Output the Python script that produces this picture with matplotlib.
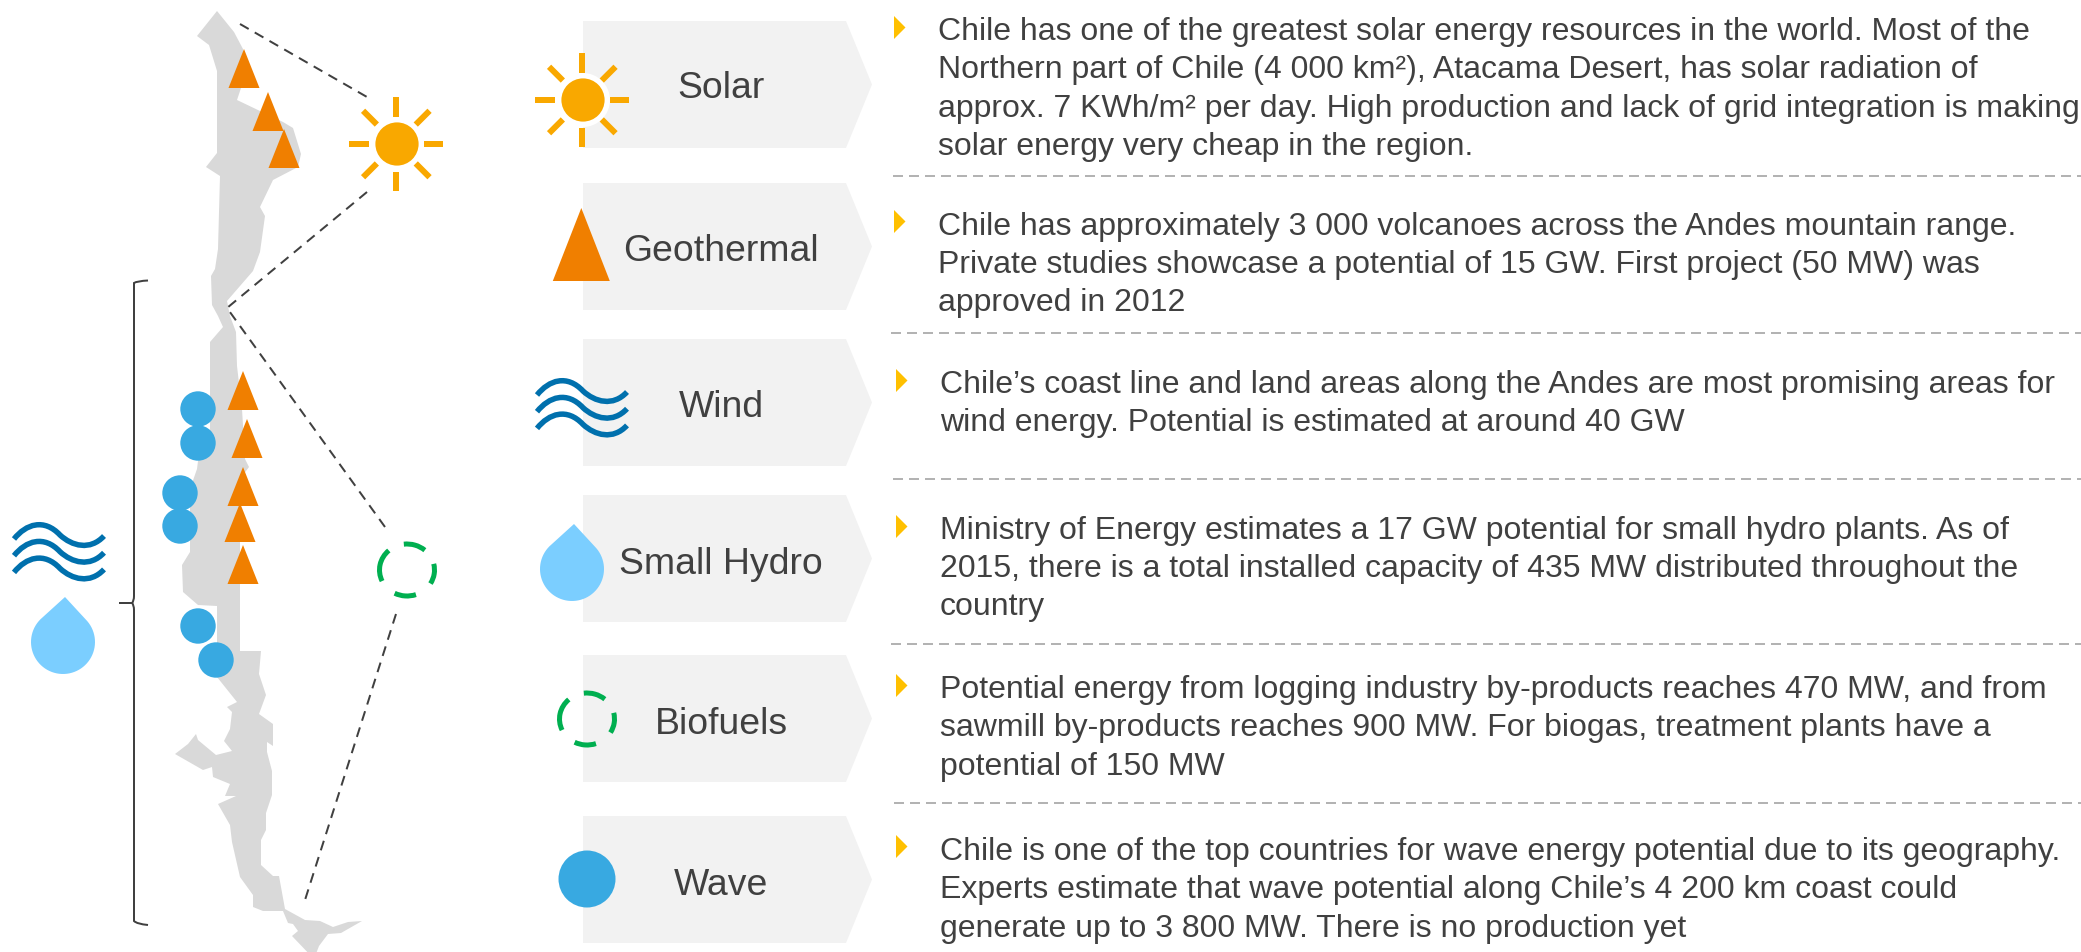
import matplotlib
matplotlib.use("Agg")
import matplotlib.pyplot as plt
import numpy as np
from matplotlib.patches import Polygon, Circle, Arc, PathPatch
from matplotlib.path import Path

plt.rcParams['font.family'] = ['Liberation Sans', 'DejaVu Sans']

W, H = 2081, 953
PX = 0.72  # one pixel in points at dpi 100

GREY_MAP = '#D9D9D9'
GREY_BOX = '#F2F2F2'
TEXT = '#404040'
ORANGE = '#F07F00'
SUN = '#F9A800'
BLUE = '#38A9E1'
DARK_BLUE = '#0070AD'
DROP = '#7BCEFF'
GREEN = '#00AF50'
YELLOW = '#FFC000'
SEP = '#B3B3B3'

# outline of the map in pixels
map_x = [217, 234, 243, 248, 241, 237, 260, 283, 293, 301, 298, 273, 260, 265, 260, 253, 227, 230, 236,
         237, 242, 245, 249, 240, 240, 240, 261, 259, 266, 259, 273, 273, 267, 267, 272, 272, 266, 266,
         261, 261, 273, 279, 285, 305, 320, 333, 348, 362, 341, 328, 319, 314, 292, 298, 293, 288, 283,
         263, 253, 253, 240, 232, 230, 218, 236, 225, 230, 213, 212, 203, 175, 188, 196, 198, 216, 232,
         224, 230, 232, 227, 237, 217, 217, 198, 183, 182, 190, 190, 197, 198, 210, 210, 223, 218, 212,
         211, 215, 218, 220, 206, 217, 217, 209, 197]
map_y = [12, 33, 50, 80, 89, 101, 112, 123, 129, 155, 168, 181, 208, 217, 253, 272, 302, 317, 333,
         367, 410, 460, 468, 480, 520, 652, 652, 675, 696, 715, 725, 747, 743, 753, 772, 796, 814, 831,
         841, 866, 877, 877, 910, 921, 922, 928, 923, 922, 934, 935, 947, 960, 937, 932, 925, 924, 912,
         912, 908, 896, 878, 843, 826, 805, 797, 797, 785, 778, 768, 771, 755, 745, 735, 741, 756, 752,
         742, 730, 713, 708, 703, 678, 607, 606, 593, 566, 553, 490, 470, 462, 437, 343, 328, 317, 306,
         277, 270, 250, 177, 168, 154, 72, 46, 37]

tri_x = [244, 268, 284, 243, 247, 243, 240, 243]
tri_base = [89, 132, 169, 411, 459, 507, 543, 585]
circle_x = [198, 198, 180, 180, 198, 216]
circle_y = [410, 444, 494, 527, 627, 661]

guide_x = [[240, 367], [367, 227, 385], [396, 305]]
guide_y = [[25, 98], [193, 309, 528], [615, 901]]

box_tops = [22, 184, 340, 496, 656, 817]
box_bottoms = [149, 311, 467, 623, 783, 944]
labels = ['Solar', 'Geothermal', 'Wind', 'Small Hydro', 'Biofuels', 'Wave']
label_base = [98, 260.7, 417, 573.7, 733.7, 894.7]

text_lines = [
    ['Chile has one of the greatest solar energy resources in the world. Most of the',
     'Northern part of Chile (4 000 km²), Atacama Desert, has solar radiation of',
     'approx. 7 KWh/m² per day. High production and lack of grid integration is making',
     'solar energy very cheap in the region.'],
    ['Chile has approximately 3 000 volcanoes across the Andes mountain range.',
     'Private studies showcase a potential of 15 GW. First project (50 MW) was',
     'approved in 2012'],
    ['Chile’s coast line and land areas along the Andes are most promising areas for',
     'wind energy. Potential is estimated at around 40 GW'],
    ['Ministry of Energy estimates a 17 GW potential for small hydro plants. As of',
     '2015, there is a total installed capacity of 435 MW distributed throughout the',
     'country'],
    ['Potential energy from logging industry by-products reaches 470 MW, and from',
     'sawmill by-products reaches 900 MW. For biogas, treatment plants have a',
     'potential of 150 MW'],
    ['Chile is one of the top countries for wave energy potential due to its geography.',
     'Experts estimate that wave potential along Chile’s 4 200 km coast could',
     'generate up to 3 800 MW. There is no production yet'],
]
text_x = [937.5, 937.5, 940, 940, 940, 940]
text_base = [40, 234.5, 393, 538.7, 698, 860]
bullet_x = [894, 894, 896, 896, 896, 896]
bullet_mid = [28.5, 222.5, 381.5, 527.5, 686.5, 847.5]
sep_x = [893, 891, 893, 891, 894]
sep_y = [177, 334, 480, 645, 804]

fig = plt.figure(figsize=(W / 100, H / 100), dpi=100)
ax = fig.add_axes([0, 0, 1, 1])
ax.set_xlim(0, W)
ax.set_ylim(H, 0)
ax.axis('off')


def triangle(x, base, w=31, h=39):
    ax.add_patch(Polygon([(x - w / 2, base), (x, base - h), (x + w / 2, base)], fc=ORANGE, ec='none', zorder=4))


def sun(cx, cy):
    ax.add_patch(Circle((cx, cy), 27, fc='white', ec='none', zorder=3))
    ax.add_patch(Circle((cx, cy), 21.6, fc=SUN, ec='none', zorder=4))
    for a in range(0, 360, 45):
        t = np.radians(a)
        ax.plot([cx - 0.7 + 27.5 * np.cos(t), cx - 0.7 + 47 * np.cos(t)], [cy + 27.5 * np.sin(t), cy + 47 * np.sin(t)],
                color=SUN, lw=6 * PX, solid_capstyle='butt', zorder=4)


def waves(x0, y0):
    for k in range(3):
        y = y0 + k * 16.7
        verts = [(x0, y), (x0 + 12, y - 15), (x0 + 30, y - 21), (x0 + 46, y - 4), (x0 + 58, y + 7),
                 (x0 + 76, y + 12), (x0 + 90, y - 3)]
        codes = [Path.MOVETO, Path.CURVE4, Path.CURVE4, Path.CURVE4, Path.CURVE4, Path.CURVE4, Path.CURVE4]
        ax.add_patch(PathPatch(Path(verts, codes), fc='none', ec=DARK_BLUE, lw=5.5 * PX, capstyle='butt', zorder=4))


def drop(cx, cy, r=32):
    t = np.radians(np.linspace(-45, 225, 60))
    pts = list(zip(cx + r * np.cos(t), cy + r * np.sin(t)))
    pts.append((cx + 2, cy - 45))
    ax.add_patch(Polygon(pts, fc=DROP, ec='none', zorder=4))


def dashed_ring(cx, cy):
    for a0, a1 in [(97, 48), (13, -30), (-70, -118), (-156, -227)]:
        ax.add_patch(Arc((cx, cy), 55, 52, theta1=-a0, theta2=-a1, color=GREEN, lw=5 * PX, zorder=4))


# map and what sits on it
ax.add_patch(Polygon(list(zip(map_x, map_y)), fc=GREY_MAP, ec='none', zorder=1))
for x, b in zip(tri_x, tri_base):
    triangle(x, b)
for x, y in zip(circle_x, circle_y):
    ax.add_patch(Circle((x, y), 17.7, fc=BLUE, ec='none', zorder=4))
for xs, ys in zip(guide_x, guide_y):
    ax.plot(xs, ys, color=TEXT, lw=2 * PX, dashes=(5, 3.5), zorder=3)

sun(397, 145)
dashed_ring(407, 571)
waves(14, 540)
drop(63, 643)

# bracket
br = [(148, 281.5), (137, 282), (134, 284), (134, 597), (134, 602), (132, 604), (119, 604),
      (132, 604), (134, 606), (134, 611), (134, 922), (137, 925), (148, 926)]
br_codes = [Path.MOVETO, Path.CURVE3, Path.CURVE3, Path.LINETO, Path.CURVE3, Path.CURVE3, Path.LINETO,
            Path.LINETO, Path.CURVE3, Path.CURVE3, Path.LINETO, Path.CURVE3, Path.CURVE3]
ax.add_patch(PathPatch(Path(br, br_codes), fc='none', ec=TEXT, lw=2 * PX, zorder=3))

# arrow boxes and labels
for top, bot, lab, base in zip(box_tops, box_bottoms, labels, label_base):
    ax.add_patch(Polygon([(583, top), (846, top), (872, (top + bot) / 2), (846, bot), (583, bot)],
                         fc=GREY_BOX, ec='none', zorder=1))
    ax.text(721, base, lab, fontsize=26.9, color=TEXT, ha='center', va='baseline', zorder=5)

# icons on the boxes
sun(583, 101)
triangle(581.3, 282, w=57, h=73)
waves(537, 396)
drop(572, 570)
dashed_ring(587, 720)
ax.add_patch(Circle((587, 880), 28.5, fc=BLUE, ec='none', zorder=4))

# right hand text
for lines, x, base in zip(text_lines, text_x, text_base):
    for i, line in enumerate(lines):
        ax.text(x, base + i * 38.4, line, fontsize=23, color=TEXT, ha='left', va='baseline')
for x, m in zip(bullet_x, bullet_mid):
    ax.add_patch(Polygon([(x, m - 11.5), (x + 11.5, m), (x, m + 11.5)], fc=YELLOW, ec='none'))
for x, y in zip(sep_x, sep_y):
    ax.plot([x, W], [y, y], color=SEP, lw=2 * PX, dashes=(5, 3))

fig.savefig('out.png', dpi=100)
